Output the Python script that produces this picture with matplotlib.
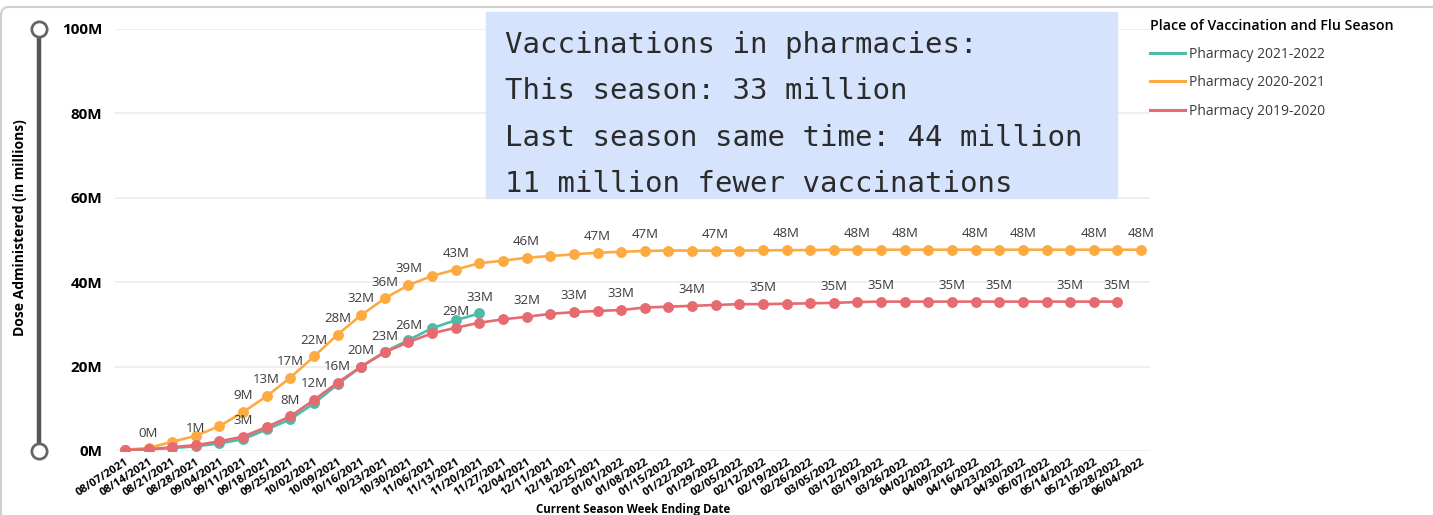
import matplotlib
matplotlib.use("Agg")
import matplotlib.pyplot as plt
from matplotlib.lines import Line2D
from matplotlib.patches import Rectangle, FancyBboxPatch
from matplotlib.transforms import IdentityTransform, ScaledTranslation

plt.rcParams['font.family'] = ['Open Sans', 'DejaVu Sans']

# week ending dates (x categories)
weeks = [
    "08/07/2021", "08/14/2021", "08/21/2021", "08/28/2021", "09/04/2021", "09/11/2021",
    "09/18/2021", "09/25/2021", "10/02/2021", "10/09/2021", "10/16/2021", "10/23/2021",
    "10/30/2021", "11/06/2021", "11/13/2021", "11/20/2021", "11/27/2021", "12/04/2021",
    "12/11/2021", "12/18/2021", "12/25/2021", "01/01/2022", "01/08/2022", "01/15/2022",
    "01/22/2022", "01/29/2022", "02/05/2022", "02/12/2022", "02/19/2022", "02/26/2022",
    "03/05/2022", "03/12/2022", "03/19/2022", "03/26/2022", "04/02/2022", "04/09/2022",
    "04/16/2022", "04/23/2022", "04/30/2022", "05/07/2022", "05/14/2022", "05/21/2022",
    "05/28/2022", "06/04/2022",
]

# cumulative doses, millions
pharm_2122 = [0.2, 0.4, 0.7, 1.1, 1.8, 2.8, 5.1, 7.5, 11.3, 15.8, 20.0, 23.5, 26.3, 29.1,
              31.0, 32.6]
pharm_2021 = [0.3, 0.7, 2.2, 3.6, 5.9, 9.2, 13.0, 17.4, 22.4, 27.6, 32.2, 36.2, 39.3, 41.5,
              43.0, 44.5, 45.1, 45.8, 46.2, 46.6, 47.0, 47.2, 47.4, 47.5, 47.5, 47.45, 47.5,
              47.55, 47.6, 47.6, 47.7, 47.7, 47.7, 47.7, 47.7, 47.7, 47.7, 47.7, 47.7, 47.7,
              47.7, 47.7, 47.7, 47.7]
pharm_1920 = [0.3, 0.4, 0.9, 1.4, 2.3, 3.4, 5.7, 8.2, 12.1, 16.2, 20.0, 23.4, 25.8, 27.9,
              29.2, 30.4, 31.2, 31.8, 32.5, 32.9, 33.2, 33.4, 34.0, 34.2, 34.4, 34.6, 34.8,
              34.8, 34.9, 35.0, 35.1, 35.3, 35.4, 35.4, 35.4, 35.4, 35.4, 35.4, 35.4, 35.4,
              35.4, 35.4, 35.4]

# which points carry a data label
lab_2122 = [15]
lab_2021 = [5, 6, 7, 8, 9, 10, 11, 12, 14, 17, 20, 22, 25, 28, 31, 33, 36, 38, 41, 43]
lab_1920 = [1, 3, 5, 7, 8, 9, 10, 11, 12, 14, 17, 19, 21, 24, 27, 30, 32, 35, 37, 40, 42]

series_names = ["Pharmacy 2021-2022", "Pharmacy 2020-2021", "Pharmacy 2019-2020"]
colors = ["#4dbba6", "#fdab40", "#e66b70"]
yticks = [0, 20, 40, 60, 80, 100]

box_lines = [
    "Vaccinations in pharmacies:",
    "This season: 33 million",
    "Last season same time: 44 million",
    "11 million fewer vaccinations",
]

W, H = 1433, 515
fig = plt.figure(figsize=(W / 100, H / 100), dpi=100)


def fx(px):
    return px / W


def fy(py):
    return 1 - py / H


ax = fig.add_axes([fx(115), fy(451), fx(1150) - fx(115), fy(29) - fy(451)])

data = [(pharm_2122, lab_2122), (pharm_2021, lab_2021), (pharm_1920, lab_1920)]
for (vals, labs), col, z in zip(data, colors, [3, 4, 5]):
    xs = list(range(len(vals)))
    ax.plot(xs, vals, color=col, lw=1.9, marker='o', ms=6.8, mec=col, zorder=z)
    for i in labs:
        ax.annotate(f"{vals[i]:.0f}M", (i, vals[i]), xytext=(0, 7), textcoords='offset points',
                    ha='center', va='bottom', fontsize=9.5, color='#3a3a3a', zorder=6)

ax.set_xlim(-0.42, 43.38)
ax.set_ylim(0, 100)
ax.set_yticks(yticks)
ax.set_yticklabels([f"{v}M" for v in yticks], fontsize=11, fontweight='bold')
ax.set_xticks(range(len(weeks)))
ax.set_xticklabels(weeks, rotation=33, ha='right', rotation_mode='anchor',
                   fontsize=8, fontweight='bold')
off = ScaledTranslation(-4 / 100, 0, fig.dpi_scale_trans)
for t in ax.get_xticklabels():
    t.set_transform(t.get_transform() + off)
ax.tick_params(length=0)
ax.tick_params(axis='y', pad=9)
ax.tick_params(axis='x', pad=4)
ax.grid(axis='y', color='#ececec', lw=1.2)
ax.set_axisbelow(True)
for s in ax.spines.values():
    s.set_visible(False)

# slider on the left
fig.add_artist(Line2D([fx(39), fx(39)], [fy(29), fy(451)], color='#555555', lw=3.2))
fig.add_artist(Line2D([fx(39), fx(39)], [fy(29), fy(451)], ls='none', marker='o', ms=11,
                      mfc='white', mec='#666666', mew=2))

fig.text(fx(20), fy(228), "Dose Administered (in millions)", rotation=90, ha='center',
         va='center', fontsize=10, fontweight='bold')
fig.text(fx(633), fy(510), "Current Season Week Ending Date", ha='center', va='center',
         fontsize=8.3, fontweight='bold')

# text box
fig.add_artist(Rectangle((fx(486), fy(198)), fx(1117) - fx(486), fy(12) - fy(198),
                         transform=fig.transFigure, color='#d6e3fc', zorder=10))
for k, line in enumerate(box_lines):
    fig.text(fx(505), fy(53 + 46.3 * k), line, family='DejaVu Sans Mono', fontsize=20.9,
             color='#2b2b2b', va='baseline', ha='left', zorder=11)

# legend
handles = [Line2D([], [], color=c, lw=2.2) for c in colors]
leg = fig.legend(handles, series_names, title="Place of Vaccination and Flu Season",
                 loc='upper left', bbox_to_anchor=(fx(1150), fy(19)), frameon=False,
                 fontsize=10, title_fontsize=10.2, handlelength=2.5, handletextpad=0.3,
                 labelspacing=0.98, alignment='left', borderaxespad=0, borderpad=0)
leg.get_title().set_fontweight('semibold')
for t in leg.get_texts():
    t.set_color('#3a3a3a')

# outer card border
fig.add_artist(FancyBboxPatch((1, -10), W + 20, H - 7 + 10, boxstyle='round,pad=0,rounding_size=8',
                              transform=IdentityTransform(), fc='none', ec='#cfcfcf', lw=1.5))

fig.savefig("out.png", dpi=100)
